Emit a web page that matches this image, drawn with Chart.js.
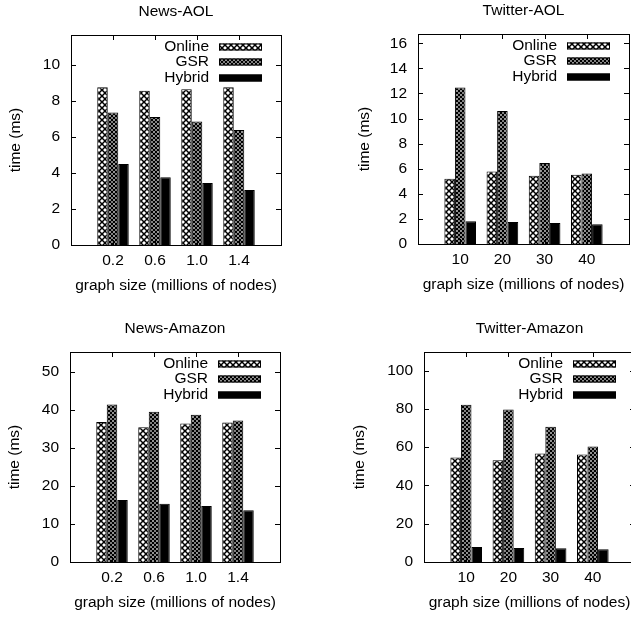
<!DOCTYPE html>
<html>
<head>
<meta charset="utf-8">
<script src="https://cdn.jsdelivr.net/npm/chart.js@4"></script>
<style>
  html, body { margin: 0; padding: 0; background: #fff; overflow: hidden; width: 631px; height: 618px; }
  canvas { position: absolute; }
</style>
</head>
<body>
<canvas id="newsAol" width="300" height="300" style="left:0px;top:0px"></canvas>
<canvas id="twitterAol" width="301" height="300" style="left:347px;top:-1px"></canvas>
<canvas id="newsAmazon" width="300" height="300" style="left:-1px;top:317px"></canvas>
<canvas id="twitterAmazon" width="301" height="300" style="left:353px;top:317px"></canvas>
<script>
  const seriesNames = ["Online", "GSR", "Hybrid"];
  const newsSizes = ["0.2", "0.6", "1.0", "1.4"];
  const twitterSizes = ["10", "20", "30", "40"];

  const newsAolOnline = [8.76, 8.57, 8.65, 8.76];
  const newsAolGsr = [7.36, 7.12, 6.86, 6.39];
  const newsAolHybrid = [4.5, 3.77, 3.45, 3.05];

  const twitterAolOnline = [5.2, 5.78, 5.45, 5.52];
  const twitterAolGsr = [12.48, 10.6, 6.46, 5.62];
  const twitterAolHybrid = [1.82, 1.75, 1.67, 1.57];

  const newsAmazonOnline = [36.8, 35.4, 36.4, 36.7];
  const newsAmazonGsr = [41.4, 39.5, 38.7, 37.2];
  const newsAmazonHybrid = [16.3, 15.3, 14.7, 13.6];

  const twitterAmazonOnline = [54.6, 53.2, 56.7, 56.1];
  const twitterAmazonGsr = [82.2, 79.7, 70.6, 60.4];
  const twitterAmazonHybrid = [7.9, 7.3, 7.2, 6.7];

  const newsAolTicks = [0, 2, 4, 6, 8, 10];
  const twitterAolTicks = [0, 2, 4, 6, 8, 10, 12, 14, 16];
  const newsAmazonTicks = [0, 10, 20, 30, 40, 50];
  const twitterAmazonTicks = [0, 20, 40, 60, 80, 100];

  const FONT = "'Liberation Sans', Arial, Helvetica, sans-serif";
  const SIZE = 15.5;

  function hatch(size, lw) {
    const c = document.createElement("canvas");
    c.width = c.height = size;
    const g = c.getContext("2d");
    g.fillStyle = "#fff";
    g.fillRect(0, 0, size, size);
    g.strokeStyle = "#000";
    g.lineWidth = lw;
    for (const o of [-size, 0, size]) {
      g.beginPath(); g.moveTo(o, 0); g.lineTo(o + size, size); g.stroke();
      g.beginPath(); g.moveTo(o + size, 0); g.lineTo(o, size); g.stroke();
    }
    return g.createPattern(c, "repeat");
  }

  const fills = [hatch(6, 1.5), hatch(4, 1.3), "#000"];

  // gnuplot-like frame, inward ticks, legend and title
  const gnuFrame = {
    id: "gnuFrame",
    afterDatasetsDraw(chart, args, opts) {
      const { ctx, chartArea: a, scales } = chart;
      ctx.save();
      ctx.strokeStyle = "#000";
      ctx.lineWidth = 1;
      ctx.strokeRect(Math.round(a.left) + 0.5, Math.round(a.top) + 0.5,
        Math.round(a.right - a.left), Math.round(a.bottom - a.top));

      ctx.beginPath();
      scales.y.ticks.forEach(t => {
        const y = Math.round(scales.y.getPixelForValue(t.value)) + 0.5;
        ctx.moveTo(a.left, y); ctx.lineTo(a.left + 5, y);
        ctx.moveTo(a.right, y); ctx.lineTo(a.right - 5, y);
      });
      chart.data.labels.forEach((lab, i) => {
        if (!lab) return;
        const x = Math.round(scales.x.getPixelForValue(i)) + 0.5;
        ctx.moveTo(x, a.bottom); ctx.lineTo(x, a.bottom - 5);
        ctx.moveTo(x, a.top); ctx.lineTo(x, a.top + 5);
      });
      ctx.stroke();

      ctx.font = SIZE + "px " + FONT;
      ctx.fillStyle = "#000";
      ctx.textBaseline = "middle";
      ctx.textAlign = "right";
      const rows = [11.7, 27.2, 42.7];
      chart.data.datasets.forEach((ds, i) => {
        const y = Math.round(a.top + rows[i]);
        ctx.fillText(ds.label, a.right - 72, y);
        ctx.fillStyle = ds.backgroundColor;
        ctx.fillRect(a.right - 62, y - 3.5, 43, 7);
        ctx.strokeRect(a.right - 62 + 0.5, y - 3.5 + 0.5, 42, 6);
        ctx.fillStyle = "#000";
      });

      ctx.textAlign = "center";
      ctx.fillText(opts.title, (a.left + a.right) / 2, a.top - 23);
      ctx.restore();
    }
  };

  function makeChart(id, title, sizes, series, yMax, yTicks, yTitleX) {
    const font = { family: FONT, size: SIZE };
    const titleFont = { family: FONT, size: SIZE, lineHeight: 1 };
    return new Chart(document.getElementById(id), {
      type: "bar",
      data: {
        labels: ["", ...sizes, ""],
        datasets: series.map((vals, i) => ({
          label: seriesNames[i],
          data: [null, ...vals, null],
          backgroundColor: fills[i],
          borderColor: "#000",
          borderWidth: 1,
          categoryPercentage: 0.75,
          barPercentage: 1
        }))
      },
      options: {
        responsive: false,
        animation: false,
        devicePixelRatio: 1,
        layout: { padding: { left: 0, top: 35, right: 19, bottom: 5 } },
        plugins: {
          legend: { display: false },
          tooltip: { enabled: false },
          gnuFrame: { title }
        },
        scales: {
          x: {
            type: "category",
            offset: false,
            afterFit: s => { s.height = 50; },
            grid: { display: false, drawTicks: false },
            border: { display: false },
            ticks: { padding: 6, color: "#000", font, maxRotation: 0, autoSkip: false },
            title: {
              display: true, text: "graph size (millions of nodes)", color: "#000",
              font: titleFont, padding: { top: 0, bottom: 2 }
            }
          },
          y: {
            min: 0,
            max: yMax,
            afterBuildTicks: s => { s.ticks = yTicks.map(v => ({ value: v })); },
            afterFit: s => { s.width = 71; },
            grid: { display: false, drawTicks: false },
            border: { display: false },
            ticks: { padding: 11, color: "#000", font },
            title: {
              display: true, text: "time (ms)", color: "#000",
              font: titleFont, padding: { top: yTitleX - SIZE / 2, bottom: 0 }
            }
          }
        }
      },
      plugins: [gnuFrame]
    });
  }

  makeChart("newsAol", "News-AOL", newsSizes,
    [newsAolOnline, newsAolGsr, newsAolHybrid], 11.67, newsAolTicks, 15.3);
  makeChart("twitterAol", "Twitter-AOL", twitterSizes,
    [twitterAolOnline, twitterAolGsr, twitterAolHybrid], 16.74, twitterAolTicks, 18);
  makeChart("newsAmazon", "News-Amazon", newsSizes,
    [newsAmazonOnline, newsAmazonGsr, newsAmazonHybrid], 55.2, newsAmazonTicks, 16);
  makeChart("twitterAmazon", "Twitter-Amazon", twitterSizes,
    [twitterAmazonOnline, twitterAmazonGsr, twitterAmazonHybrid], 109.7, twitterAmazonTicks, 7);
</script>
</body>
</html>
